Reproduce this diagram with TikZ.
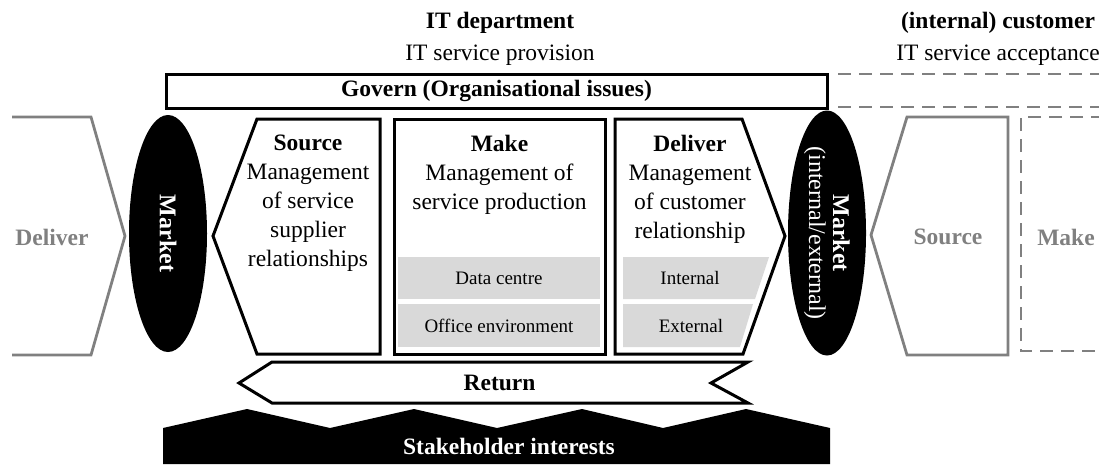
\documentclass[tikz,border=0pt]{standalone}
\usepackage{fontspec}
\setmainfont{Liberation Serif}
\usetikzlibrary{shapes.geometric,positioning}

\begin{document}
\begin{tikzpicture}[
			x=1pt, y=-1pt,
			line join=miter,
			every node/.style={inner sep=0pt, font=\fontsize{23.5}{29}\selectfont},
			heading/.style={font=\fontsize{23.5}{29}\selectfont\bfseries},
			body/.style={align=center, anchor=north},
			small/.style={font=\fontsize{19}{22}\selectfont},
			frame/.style={draw=black, line width=3pt, fill=white},
			ghost/.style={draw=black!50, line width=2.8pt},
			ghostdash/.style={draw=black!50, line width=2.8pt, dash pattern=on 13pt off 8pt},
			cell/.style={fill=black!15},
			market/.style={
				ellipse,
				fill=black,
				text=white,
				rotate=-90,
				minimum width=237pt,
				minimum height=78pt,
				align=center,
				font=\fontsize{24}{24}\selectfont\bfseries
			}
			]
			\useasboundingbox (0,0) rectangle (1099,464);
			
			% Who provides and who accepts the service
			\node[heading, anchor=base] (itdept) at (500,28) {IT department};
			\node[anchor=base] (provision) at (500,60) {IT service provision};
			\node[heading, anchor=base] (customer) at (998,28) {(internal) customer};
			\node[anchor=base] (acceptance) at (998,60) {IT service acceptance};
			
			% Govern bar, continued on the customer side
			\node[frame, heading, minimum width=661pt, minimum height=34pt] (govern) at (496.5,91) {Govern (Organisational issues)};
			\draw[ghostdash] (838,74) -- (1104,74);
			\draw[ghostdash] (838,107) -- (1104,107);
			
			% Upstream supplier
			\draw[ghost] (12,117) -- (91,117) -- (125,236) -- (91,355) -- (12,355);
			\node[heading, text=black!50] (supplierdeliver) at (52,237) {Deliver};
			
			% Source, Make and Deliver of the IT department
			\draw[frame] (213,236) -- (257,119) -- (380,119) -- (380,354) -- (257,354) -- cycle;
			\node[body] (source) at (308,135) {\textbf{Source}\\Management\\of service\\supplier\\relationships};
			
			\draw[frame] (394,119) rectangle (605,354);
			\node[body] (make) at (499.5,135) {\textbf{Make}\\Management of\\service production};
			\fill[cell] (398,257) rectangle (600,299);
			\fill[cell] (398,304) rectangle (600,347);
			\node[small] (datacentre) at (499,278) {Data centre};
			\node[small] (office) at (499,325.5) {Office environment};
			
			\draw[frame] (615,119) -- (742,119) -- (785,236) -- (743,354) -- (615,354) -- cycle;
			\node[body] (deliver) at (690,135) {\textbf{Deliver}\\Management\\of customer\\relationship};
			\fill[cell] (623,257) -- (769,257) -- (755,299) -- (623,299) -- cycle;
			\fill[cell] (623,304) -- (753,304) -- (740,347) -- (623,347) -- cycle;
			\node[small] (internal) at (690,278) {Internal};
			\node[small] (external) at (691,326) {External};
			
			% Markets on both sides
			\node[market] (market1) at (168,233.5) {Market};
			\node[market] (market2) at (827,233) {Market\\{\mdseries (internal/external)}};
			
			% Downstream customer
			\draw[ghost] (871,235) -- (907,117) -- (1008,117) -- (1008,355) -- (907,355) -- cycle;
			\node[heading, text=black!50] (customersource) at (948,237) {Source};
			\draw[ghostdash] (1104,117) -- (1021,117) -- (1021,351) -- (1104,351);
			\node[heading, text=black!50] (customermake) at (1066,237) {Make};
			
			% Return and stakeholder interests
			\draw[frame] (239,383) -- (272,362) -- (748,362) -- (711,383) -- (748,403) -- (272,403) -- cycle;
			\node[heading] (return) at (499.5,383) {Return};
			
			\fill (163,464) -- (163,428) -- (247,409) -- (330,428) -- (414,409) -- (497,428)
				-- (582,409) -- (663,428) -- (746,409) -- (830,428) -- (830,464) -- cycle;
			\node[heading, text=white] (stakeholder) at (509,446) {Stakeholder interests};
		\end{tikzpicture}
\end{document}
